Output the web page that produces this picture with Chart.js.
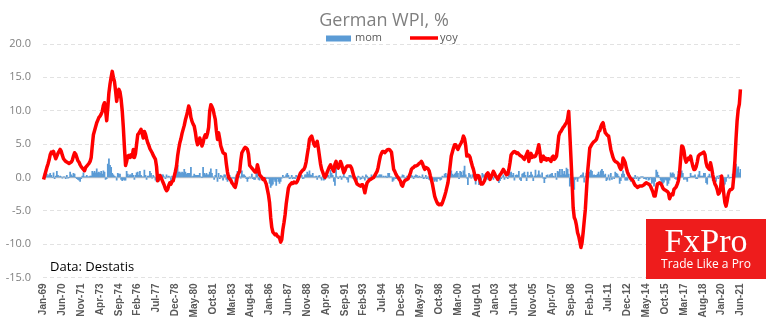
<!DOCTYPE html>
<html>
<head>
<meta charset="utf-8">
<title>German WPI</title>
<script src="https://cdn.jsdelivr.net/npm/chart.js@4.4.0/dist/chart.umd.min.js"></script>
<style>
  html, body { margin: 0; padding: 0; background: #fff; }
  #wrap { width: 770px; height: 330px; position: relative; }
</style>
</head>
<body>
<div id="wrap"><canvas id="chart" width="770" height="330"></canvas></div>
<script>
// monthly series, Jan-69 .. Jun-21
var monthNames = ['Jan', 'Feb', 'Mar', 'Apr', 'May', 'Jun', 'Jul', 'Aug', 'Sep', 'Oct', 'Nov', 'Dec'];
var firstYear = 1969;
var labelEvery = 17; // one axis label every 17 months

// year-on-year change, %
var yoy = [
  -0.3, 0.3, 0.9, 1.5, 2.0, 2.6, 3.4, 3.8, 3.6, 3.9, 3.3, 2.8,        // 1969
  3.2, 3.6, 3.9, 4.2, 3.9, 3.3, 2.8, 2.6, 2.4, 2.3, 2.2, 2.1,         // 1970
  2.2, 2.3, 2.6, 3.2, 3.7, 3.5, 3.0, 2.5, 2.3, 1.9, 1.6, 1.4,         // 1971
  1.2, 1.0, 1.5, 1.7, 1.9, 2.1, 2.4, 3.0, 4.8, 6.4, 7.0, 7.6,         // 1972
  8.2, 8.6, 9.0, 9.2, 9.5, 9.9, 10.8, 11.2, 10.0, 8.5, 10.5, 12.7,    // 1973
  14.0, 15.0, 15.9, 15.0, 14.4, 13.0, 11.4, 12.6, 13.2, 12.8, 11.7, 10.0, // 1974
  7.5, 4.5, 1.8, 2.4, 3.2, 3.3, 3.0, 3.4, 3.1, 4.2, 3.0, 3.6,         // 1975
  5.0, 6.4, 6.6, 6.9, 7.2, 6.6, 5.9, 6.9, 6.5, 5.8, 5.2, 4.8,         // 1976
  4.3, 4.0, 3.7, 3.3, 3.0, 2.7, 1.6, -0.5, -0.2, 0.3, 0.0, -0.4,      // 1977
  -0.8, -1.2, -1.7, -2.0, -1.8, -1.2, -0.8, -1.0, -0.6, -0.5, 0.2, 0.9, // 1978
  1.7, 3.2, 4.3, 5.2, 5.8, 6.6, 7.2, 7.8, 8.6, 9.2, 9.9, 10.7,        // 1979
  10.2, 9.0, 8.4, 8.0, 7.7, 6.8, 5.6, 4.9, 5.2, 5.9, 5.3, 4.7,        // 1980
  5.2, 6.0, 6.4, 6.0, 6.6, 7.5, 10.0, 10.9, 10.6, 10.2, 9.4, 8.7,     // 1981
  7.0, 5.7, 6.7, 5.8, 4.7, 4.2, 3.7, 3.6, 3.5, 2.0, 0.8, 0.0,         // 1982
  -0.2, -0.4, -0.8, -1.0, -1.3, -1.5, -0.8, 0.2, 0.6, 0.9, 2.5, 3.7,  // 1983
  4.0, 4.3, 4.5, 4.4, 4.2, 3.5, 1.8, 1.6, 1.4, 1.2, 1.0, 0.8,         // 1984
  0.8, 1.9, 1.2, 0.4, 0.2, 0.0, -0.3, -0.2, -0.6, -1.0, -1.8, -2.6,   // 1985
  -3.8, -6.0, -7.5, -8.2, -8.4, -8.6, -8.5, -8.8, -8.9, -9.1, -9.7, -9.3, // 1986
  -7.8, -6.8, -5.6, -4.0, -2.8, -1.6, -1.2, -1.0, -0.8, -0.9, -0.7, -0.8, // 1987
  -0.8, -0.6, -0.2, 0.3, 0.7, 0.9, 1.1, 1.2, 1.6, 2.3, 3.4, 4.4,      // 1988
  5.7, 6.0, 6.2, 5.6, 5.0, 4.7, 5.1, 5.4, 4.4, 3.2, 2.0, 1.2,         // 1989
  0.8, 0.3, 0.0, 0.3, 0.8, 1.2, 1.6, 1.9, 1.5, 1.2, 0.9, 2.0,         // 1990
  2.4, 1.6, 1.4, 1.8, 2.4, 2.0, 1.3, 0.7, 1.0, 1.5, 1.7, 1.7,         // 1991
  1.7, 1.7, 1.4, 0.8, 0.2, -0.2, -0.6, -1.0, -1.1, -1.2, -1.3, -1.1,  // 1992
  -1.1, -1.6, -2.3, -1.5, -0.8, -0.6, -0.4, -0.3, -0.2, -0.1, 0.0, 0.3, // 1993
  0.6, 0.9, 1.5, 2.4, 3.2, 3.6, 3.9, 3.9, 3.7, 3.9, 4.1, 4.2,         // 1994
  4.2, 4.0, 3.8, 2.5, 1.2, 0.9, 0.5, 0.2, 0.0, -0.3, -0.5, -1.1,      // 1995
  -1.3, -0.8, -0.5, -0.4, -0.3, -0.2, 0.2, 0.6, 1.2, 1.4, 1.5, 1.7,   // 1996
  1.7, 1.8, 1.9, 2.1, 2.2, 2.4, 2.1, 1.6, 1.2, 1.5, 1.4, 1.3,         // 1997
  1.0, 0.3, -0.3, -1.0, -1.9, -2.8, -3.3, -3.7, -4.0, -4.1, -4.0, -4.1, // 1998
  -3.8, -3.3, -2.8, -2.2, -1.5, -0.8, 0.4, 1.8, 3.2, 3.8, 4.4, 4.9,   // 1999
  4.9, 4.5, 4.2, 4.6, 4.9, 5.2, 5.6, 6.2, 5.8, 4.8, 3.2, 3.4,         // 2000
  3.3, 3.0, 2.3, 1.7, 1.2, 0.5, -0.3, 0.2, 0.3, 0.2, -0.5, -1.0,      // 2001
  -1.0, -0.8, -0.5, 0.0, 0.5, 0.7, 0.3, -0.3, 0.1, 0.5, 0.9, 0.6,     // 2002
  0.2, 0.0, -0.3, 0.1, 0.4, 0.6, 0.9, 1.2, 0.9, 0.6, 0.4, 0.5,        // 2003
  1.2, 2.2, 3.4, 3.6, 3.8, 3.9, 3.8, 3.6, 3.7, 3.5, 3.3, 3.2,         // 2004
  3.1, 2.9, 2.7, 3.1, 3.5, 3.9, 2.4, 3.3, 3.6, 3.0, 3.2, 3.1,         // 2005
  3.2, 3.6, 4.2, 4.9, 3.8, 2.4, 3.0, 3.2, 2.7, 2.9, 2.6, 2.8,         // 2006
  2.8, 2.6, 2.4, 3.0, 3.2, 2.7, 2.9, 3.2, 4.6, 6.2, 6.7, 6.9,         // 2007
  7.2, 7.5, 7.7, 8.0, 8.2, 8.8, 9.9, 6.5, 3.0, -0.5, -4.5, -6.0,      // 2008
  -6.4, -7.2, -8.3, -8.8, -9.6, -10.5, -9.8, -8.3, -6.5, -4.8, -2.0, 0.7, // 2009
  2.5, 4.4, 4.7, 5.0, 5.2, 5.4, 5.5, 5.7, 6.2, 6.9, 7.0, 7.6,         // 2010
  8.0, 8.2, 7.4, 6.7, 6.5, 6.3, 6.2, 5.2, 4.2, 3.6, 3.0, 2.6,         // 2011
  2.4, 2.3, 2.2, 2.0, 1.5, 1.2, 1.5, 2.9, 2.6, 2.2, 1.4, 0.8,         // 2012
  0.4, 0.1, -0.2, -0.3, -0.5, -0.9, -1.2, -1.3, -1.5, -1.4, -1.3, -1.3, // 2013
  -1.3, -1.2, -1.1, -0.9, -0.8, -0.9, -1.0, -1.1, -1.4, -1.8, -2.2, -2.8, // 2014
  -2.8, -1.9, -1.0, -0.9, -0.8, -0.9, -1.2, -1.6, -1.8, -1.9, -2.0, -2.1, // 2015
  -2.3, -3.2, -2.8, -2.5, -2.6, -1.8, -1.6, -1.4, -1.0, -0.5, 0.6, 2.7, // 2016
  4.7, 4.6, 4.0, 2.8, 2.3, 2.6, 2.9, 2.7, 3.2, 2.4, 1.7, 1.2,         // 2017
  1.2, 1.6, 2.3, 3.2, 3.4, 3.5, 3.6, 3.7, 3.8, 3.4, 2.2, 1.6,         // 2018
  1.4, 1.2, 2.2, 1.4, 0.4, -0.4, -1.0, -1.3, -1.8, -2.5, -2.3, -1.8,  // 2019
  0.2, -1.0, -2.5, -3.8, -4.3, -3.5, -2.5, -2.0, -1.8, -1.8, -1.6, 0.2, // 2020
  2.5, 5.8, 8.5, 10.2, 11.0, 13.2                                     // 2021
];

// month-on-month change, %
var mom = [
  0.1, 0.6, 0.5, 0.5, 0.2, 0.4, 0.6, 0.3, 0.0, 0.7, -0.2, 0.2,        // 1969
  0.9, 0.3, 0.1, 0.2, 0.1, -0.1, 0.1, 0.1, -0.2, 0.3, -0.1, 0.0,      // 1970
  0.8, 0.4, 0.2, 0.6, 0.5, 0.0, -0.2, -0.3, -0.4, -0.6, -0.2, 0.2,    // 1971
  0.7, 0.1, 0.1, 0.3, 0.1, 0.1, 0.2, 0.2, 0.9, 0.7, 0.9, 0.7,         // 1972
  1.3, 0.7, 0.8, 0.6, 0.9, 0.5, 1.0, 0.8, -0.3, -0.2, 2.0, 2.8,       // 1973
  1.8, 1.5, 0.6, 0.4, 0.2, 0.1, -0.4, 0.6, 0.5, 0.5, -0.3, -0.5,      // 1974
  -0.3, -0.4, -0.4, 0.9, 0.5, 0.2, 0.4, 0.4, 0.6, 0.3, -0.3, 0.3,     // 1975
  0.7, 0.8, 0.3, 0.9, 0.3, 0.1, 0.1, 1.1, 0.3, -0.3, 0.2, 0.2,        // 1976
  0.9, 0.6, -0.1, 0.3, 0.1, -0.4, -0.6, -0.6, -0.6, 0.3, -0.2, 0.4,   // 1977
  0.4, 0.1, -0.2, 0.4, 0.1, 0.2, 0.1, -0.8, 0.2, -0.2, 0.4, 1.0,      // 1978
  1.0, 1.8, 0.8, 0.8, 0.6, 0.8, 0.7, 1.2, 0.8, 0.5, 0.6, 0.6,         // 1979
  0.6, 1.5, 0.1, 0.2, 0.5, 0.3, 0.3, 0.3, 0.3, 0.6, 0.1, 0.0,         // 1980
  1.5, 0.6, 0.4, 0.6, 0.4, 0.4, 0.8, 1.3, 0.6, 0.1, -0.3, 0.3,        // 1981
  1.2, -0.6, 0.6, -0.2, 0.3, 0.2, -0.4, 0.4, 0.4, -0.3, -0.6, -0.3,   // 1982
  0.3, -0.2, -0.1, -0.1, -0.1, -0.7, 0.4, 0.9, 0.4, 0.2, -0.1, 1.0,   // 1983
  0.4, 0.4, 0.2, -0.2, -0.6, -0.2, 0.1, -0.1, 0.5, -0.2, -0.3, -0.3,  // 1984
  0.9, 0.6, -0.3, -0.4, 0.0, -0.3, -0.3, -0.4, 0.0, -0.2, -0.1, -0.2, // 1985
  -0.9, -1.5, -1.2, -1.0, -0.3, -0.6, -1.2, -0.2, -0.6, -0.9, -0.6, -0.1, // 1986
  0.3, 0.0, 0.1, 0.4, 0.6, 0.3, -0.2, -0.1, 0.3, -0.2, 0.0, -0.2,     // 1987
  0.3, 0.2, 0.2, 0.3, 0.6, 0.3, -0.2, -0.1, 0.4, 0.4, 0.8, 0.5,       // 1988
  1.0, 0.4, 0.3, 0.6, 0.1, 0.1, 0.2, -0.3, 0.2, 0.3, -0.1, -0.4,      // 1989
  0.2, -0.4, -0.3, 0.3, 0.4, 0.3, -0.1, 1.1, 0.6, 0.3, -0.6, -1.2,    // 1990
  1.4, 0.1, -0.2, 0.1, 0.2, -0.3, 0.1, 0.5, 0.1, 0.0, -0.3, -0.7,     // 1991
  0.3, 0.3, 0.2, -0.1, -0.2, -0.4, -0.3, -0.4, 0.2, 0.1, -0.3, -0.2,  // 1992
  0.2, -0.1, -0.4, 0.4, 0.2, -0.2, -0.2, -0.4, 0.4, 0.0, -0.2, 0.1,   // 1993
  0.6, 0.2, 0.2, 0.4, 0.4, 0.4, 0.1, 0.2, 0.1, 0.2, 0.0, 0.6,         // 1994
  0.6, 0.1, 0.1, -0.6, -0.4, -0.1, -0.2, -0.2, 0.0, -0.1, -0.2, 0.1,  // 1995
  0.4, 0.3, -0.1, -0.1, 0.2, -0.3, 0.2, 0.0, 0.3, 0.2, -0.2, 0.2,     // 1996
  0.4, 0.3, 0.0, 0.2, 0.1, 0.0, 0.4, -0.2, -0.1, 0.3, -0.2, 0.1,      // 1997
  -0.3, -0.4, -0.4, -0.5, -0.3, -0.6, -0.4, -0.6, -0.2, -0.2, -0.4, -0.3, // 1998
  0.2, 0.1, 0.5, 0.6, 0.2, 0.5, 0.4, 0.9, 1.0, 0.5, 0.3, 0.5,         // 1999
  0.7, 0.9, 0.6, -0.2, 0.9, 0.8, 0.3, 1.0, 1.7, 0.4, -0.1, -1.1,      // 2000
  0.6, 0.4, -0.1, 0.4, 0.5, -0.2, -1.0, -0.1, 0.4, -1.1, -0.5, -0.4,  // 2001
  0.6, 0.4, 0.4, 0.5, -0.1, -0.3, -0.3, 0.1, 0.2, 0.0, -0.3, 0.2,     // 2002
  0.5, 0.3, 0.0, -0.8, -0.5, -0.2, 0.1, 0.4, -0.3, 0.1, 0.0, -0.2,    // 2003
  1.0, 0.7, 0.8, 0.3, 0.6, -0.4, 0.3, 0.4, 0.3, 0.9, -0.3, -0.5,      // 2004
  0.5, 0.6, 0.8, 0.3, -0.5, 0.8, 0.2, 0.3, 0.8, 0.4, -0.5, 0.2,       // 2005
  1.1, 0.2, 0.4, 1.0, 0.4, 0.1, 0.7, -0.1, -0.8, -0.2, 0.3, 0.4,      // 2006
  0.1, 0.4, 0.5, 0.6, 0.2, 0.1, 0.6, -0.3, 0.9, 0.8, 1.2, 0.3,        // 2007
  1.2, 0.5, 0.9, 0.4, 1.4, 1.2, 0.5, -1.3, -0.9, -1.6, -2.2, -1.8,    // 2008
  -0.3, -0.1, -0.6, -0.1, 0.1, 0.3, 0.4, 0.7, -0.7, 0.2, 0.6, 0.3,    // 2009
  0.8, 0.8, 1.1, 0.9, 0.3, 0.4, 0.3, 0.3, 0.5, 0.8, 0.4, 1.0,         // 2010
  1.2, 0.9, 0.3, 0.5, -0.5, -0.3, 0.4, -0.4, 0.6, -0.3, 0.1, -0.2,    // 2011
  0.8, 0.6, 0.5, 0.2, -0.9, -0.5, 0.5, 1.0, 0.5, -0.4, -0.4, -0.4,    // 2012
  0.4, 0.2, -0.6, -0.4, -0.6, -0.2, 0.3, -0.2, 0.1, -0.5, -0.2, 0.1,  // 2013
  0.1, 0.1, -0.2, -0.2, -0.3, 0.0, -0.4, -0.3, 0.0, -0.9, -0.7, -1.3, // 2014
  -0.6, 1.1, 0.8, 0.3, 0.0, -0.4, -0.7, -0.9, -0.7, -0.3, -0.4, -1.2, // 2015
  -0.9, -0.4, 0.7, 0.5, 0.7, 0.5, -0.2, -0.3, 0.0, 0.9, 0.1, 0.8,     // 2016
  1.0, 0.6, -0.3, -0.1, -0.3, -0.6, 0.0, 0.0, 0.6, 0.2, 0.2, 0.2,     // 2017
  0.4, -0.2, -0.2, 0.4, 0.9, 0.2, 0.2, 0.2, 0.6, 0.6, -0.8, -1.0,     // 2018
  0.2, 0.5, 0.1, 0.4, -0.5, -0.8, -0.2, -0.6, 0.2, -0.2, 0.3, -0.1,   // 2019
  0.2, -0.5, -1.2, -1.0, -0.6, 0.0, 0.4, -0.1, 0.0, 0.0, 0.5, 1.0,    // 2020
  1.5, 2.0, 1.3, 1.6, 0.7, 1.2                                        // 2021
];

var yMin = -15, yMax = 20, yStep = 5;

document.addEventListener('DOMContentLoaded', function() {
    var canvas = document.getElementById('chart');
    var ctx = canvas.getContext('2d');

    // "Jan-69", "Feb-69", ...
    var labels = [];
    for (var i = 0; i < yoy.length; i++) {
        var yr = (firstYear + Math.floor(i / 12)) % 100;
        labels.push(monthNames[i % 12] + '-' + (yr < 10 ? '0' + yr : '' + yr));
    }

    // title, legend, source note, logo and the solid zero line
    var decor = {
        id: 'decor',
        beforeDatasetsDraw: function(chart) {
            var c = chart.ctx;
            var area = chart.chartArea;
            var y0 = chart.scales.y.getPixelForValue(0);
            c.save();
            c.strokeStyle = '#c9c9c9';
            c.lineWidth = 1.5;
            c.beginPath();
            c.moveTo(area.left, y0);
            c.lineTo(area.right, y0);
            c.stroke();
            c.restore();
        },
        afterDraw: function(chart) {
            var c = chart.ctx;
            c.save();

            c.fillStyle = '#7f7f7f';
            c.font = '18px "Open Sans"';
            c.textAlign = 'center';
            c.textBaseline = 'middle';
            c.fillText('German WPI, %', 384, 21);

            // legend
            c.textAlign = 'left';
            c.font = '11px "Open Sans"';
            c.fillStyle = '#5b9bd5';
            c.fillRect(326, 35.5, 25, 6);
            c.fillStyle = '#595959';
            c.fillText('mom', 355, 38);
            c.strokeStyle = '#ff0000';
            c.lineWidth = 3.5;
            c.beginPath();
            c.moveTo(410, 38);
            c.lineTo(438, 38);
            c.stroke();
            c.fillText('yoy', 440, 38);

            c.fillStyle = '#000000';
            c.font = '13px "Open Sans"';
            c.fillText('Data: Destatis', 50, 267);

            // logo block
            c.fillStyle = '#ee1c1c';
            c.fillRect(646, 219, 120, 60);
            c.fillStyle = '#ffffff';
            c.textAlign = 'center';
            c.textBaseline = 'alphabetic';
            c.font = '34px "Liberation Serif"';
            c.fillText('FxPro', 706, 252);
            c.font = '12px "Open Sans"';
            c.fillText('Trade Like a Pro', 706, 268);

            c.restore();
        }
    };

    new Chart(ctx, {
        type: 'bar',
        data: {
            labels: labels,
            datasets: [
                {
                    type: 'line',
                    label: 'yoy',
                    data: yoy,
                    borderColor: '#ff0000',
                    borderWidth: 3.5,
                    borderJoinStyle: 'round',
                    pointRadius: 0,
                    tension: 0,
                    order: 0
                },
                {
                    type: 'bar',
                    label: 'mom',
                    data: mom,
                    backgroundColor: '#5b9bd5',
                    barPercentage: 1.0,
                    categoryPercentage: 1.0,
                    order: 1
                }
            ]
        },
        options: {
            responsive: false,
            animation: false,
            layout: { padding: { top: 44, right: 29, left: 0, bottom: 0 } },
            plugins: {
                legend: { display: false },
                title: { display: false },
                tooltip: { enabled: false }
            },
            scales: {
                x: {
                    grid: { display: false, drawTicks: false },
                    border: { display: false },
                    ticks: {
                        autoSkip: false,
                        maxRotation: 90,
                        minRotation: 90,
                        padding: 6,
                        color: '#595959',
                        font: { family: 'Liberation Sans', size: 10, weight: 'bold' },
                        callback: function(value, index) {
                            return index % labelEvery === 0 ? this.getLabelForValue(value) : null;
                        }
                    },
                    afterFit: function(scale) { scale.height = 52.5; }
                },
                y: {
                    min: yMin,
                    max: yMax,
                    grid: {
                        drawTicks: false,
                        lineWidth: 1,
                        color: function(context) {
                            return context.tick && context.tick.value === 0 ? 'rgba(0,0,0,0)' : '#e2e2e2';
                        }
                    },
                    border: { display: false, dash: [4, 3] },
                    ticks: {
                        stepSize: yStep,
                        padding: 12,
                        color: '#7f7f7f',
                        font: { family: 'Open Sans', size: 11 },
                        callback: function(value) { return value.toFixed(1); }
                    },
                    afterFit: function(scale) { scale.width = 43; }
                }
            }
        },
        plugins: [decor]
    });
});
</script>
</body>
</html>
